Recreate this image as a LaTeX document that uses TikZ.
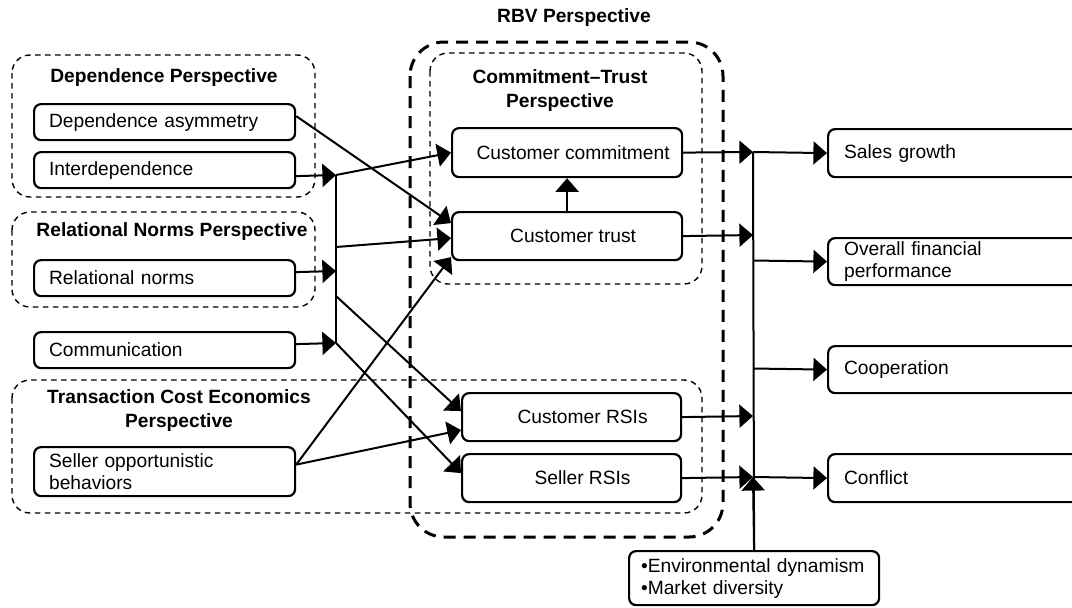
\documentclass[tikz,border=0pt]{standalone}
\usepackage{fontspec}
\setmainfont{Liberation Sans}
\usetikzlibrary{arrows.meta}
\begin{document}
\begin{tikzpicture}[x=0.5pt,y=-0.5pt,
  every node/.style={font=\fontsize{9.6}{11}\selectfont},
  box/.style={draw, line width=1.1pt, rounded corners=3.5pt, anchor=north west, inner ysep=0pt},
  lbox/.style={box, text width=115.5pt, inner xsep=7.5pt, align=left},
  mbox/.style={box, minimum width=#1, align=center, inner xsep=0pt},
  rbox/.style={box, text width=120.5pt, inner xsep=8pt, align=left},
  grp/.style={draw, line width=0.7pt, dash pattern=on 2.8pt off 2.2pt, rounded corners=9pt},
  rbv/.style={draw, line width=1.5pt, dash pattern=on 6pt off 4pt, rounded corners=17pt},
  ttl/.style={font=\fontsize{9.6}{12}\selectfont\bfseries, align=center},
  arr/.style={line width=1pt, -{Triangle[length=6.8pt,width=11.5pt]}},
  ln/.style={line width=1pt}
]
\useasboundingbox (0,0) rectangle (1072,607);

% grouping frames
\draw[rbv] (410,42) rectangle (723,537);
\draw[grp] (430,53) rectangle (702,284);
\draw[grp] (12,55) rectangle (315,197);
\draw[grp] (12,212) rectangle (315,307);
\draw[grp] (12,380) rectangle (702,513);

% titles
\node[ttl] (tdep) at (164,78) {Dependence Perspective};
\node[ttl] (trel) at (172,232) {Relational Norms Perspective};
\node[ttl] (ttce) at (179,411) {Transaction Cost Economics\\Perspective};
\node[ttl] (tct) at (560,91) {Commitment–Trust\\Perspective};
\node[ttl] (trbv) at (574,18) {RBV Perspective};

% left boxes
\node[lbox, minimum height=18pt] (asym) at (33,103) {Dependence asymmetry};
\node[lbox, minimum height=18pt] (interd) at (33,151) {Interdependence};
\node[lbox, minimum height=18pt] (reln) at (33,259) {Relational norms};
\node[lbox, minimum height=18pt] (comm) at (33,331) {Communication};
\node[lbox, minimum height=24.5pt] (sob) at (33,446) {Seller opportunistic\\behaviors};

% middle boxes
\node[mbox=115pt, minimum height=24.5pt] (ccom) at (451,127) {\hspace*{6pt}Customer commitment};
\node[mbox=115pt, minimum height=24pt] (ctr) at (451,211) {\hspace*{6pt}Customer trust};
\node[mbox=109.5pt, minimum height=24pt] (crsi) at (461,392) {\hspace*{11pt}Customer RSIs};
\node[mbox=109.5pt, minimum height=24pt] (srsi) at (461,453) {\hspace*{11pt}Seller RSIs};

% right boxes
\node[rbox, minimum height=24pt] (sales) at (827,128) {Sales growth};
\node[rbox, minimum height=23.5pt] (ofp) at (827,237) {Overall financial\\performance};
\node[rbox, minimum height=23.5pt] (coop) at (827,345) {Cooperation};
\node[rbox, minimum height=24pt] (confl) at (827,453) {Conflict};

% environment box
\node[box, minimum height=27pt, text width=117pt, inner xsep=4pt, align=left] (env) at (628,550) {\hspace*{2pt}•Environmental dynamism\\\hspace*{2pt}•Market diversity};

% left bar
\coordinate (b1) at (336,175);
\coordinate (b2) at (336,271);
\coordinate (b3) at (336,343);
\coordinate (bt) at (336,247);
\coordinate (bc) at (336,296);
\draw[ln] (b1) -- (b3);
\draw[arr] ([yshift=-3pt]interd.east) -- (b1);
\draw[arr] ([yshift=3pt]reln.east) -- (b2);
\draw[arr] ([yshift=3pt]comm.east) -- (b3);

\draw[arr] (b1) -- (ccom.west);
\draw[arr] (bt) -- ([yshift=-1pt]ctr.west);
\draw[arr] ([yshift=3pt]asym.east) -- ([yshift=6.5pt]ctr.west);
\draw[arr] ([yshift=3.5pt]sob.east) -- ([yshift=-10.5pt]ctr.west);
\draw[arr] ([yshift=3.5pt]sob.east) -- ([yshift=-6.5pt]crsi.west);
\draw[arr] (bc) -- ([yshift=3pt]crsi.west);
\draw[arr] (b3) -- ([yshift=2.5pt]srsi.west);

\draw[arr] (ctr.north) -- (ccom.south);

% right collector
\coordinate (c1) at (753,152);
\coordinate (c2) at (753,235);
\coordinate (c3) at (753,416);
\coordinate (c4) at (753,477);
\coordinate (o2) at (753,260.5);
\coordinate (o3) at (753,368.5);
\draw[ln] (c1) -- (env.north);
\draw[arr] (ccom.east) -- (c1);
\draw[arr] (ctr.east) -- (c2);
\draw[arr] (crsi.east) -- (c3);
\draw[arr] (srsi.east) -- (c4);
\draw[arr] (env.north) -- (c4);

\draw[arr] (c1) -- (sales.west);
\draw[arr] (o2) -- (ofp.west);
\draw[arr] (o3) -- (coop.west);
\draw[arr] (c4) -- (confl.west);
\end{tikzpicture}
\end{document}
